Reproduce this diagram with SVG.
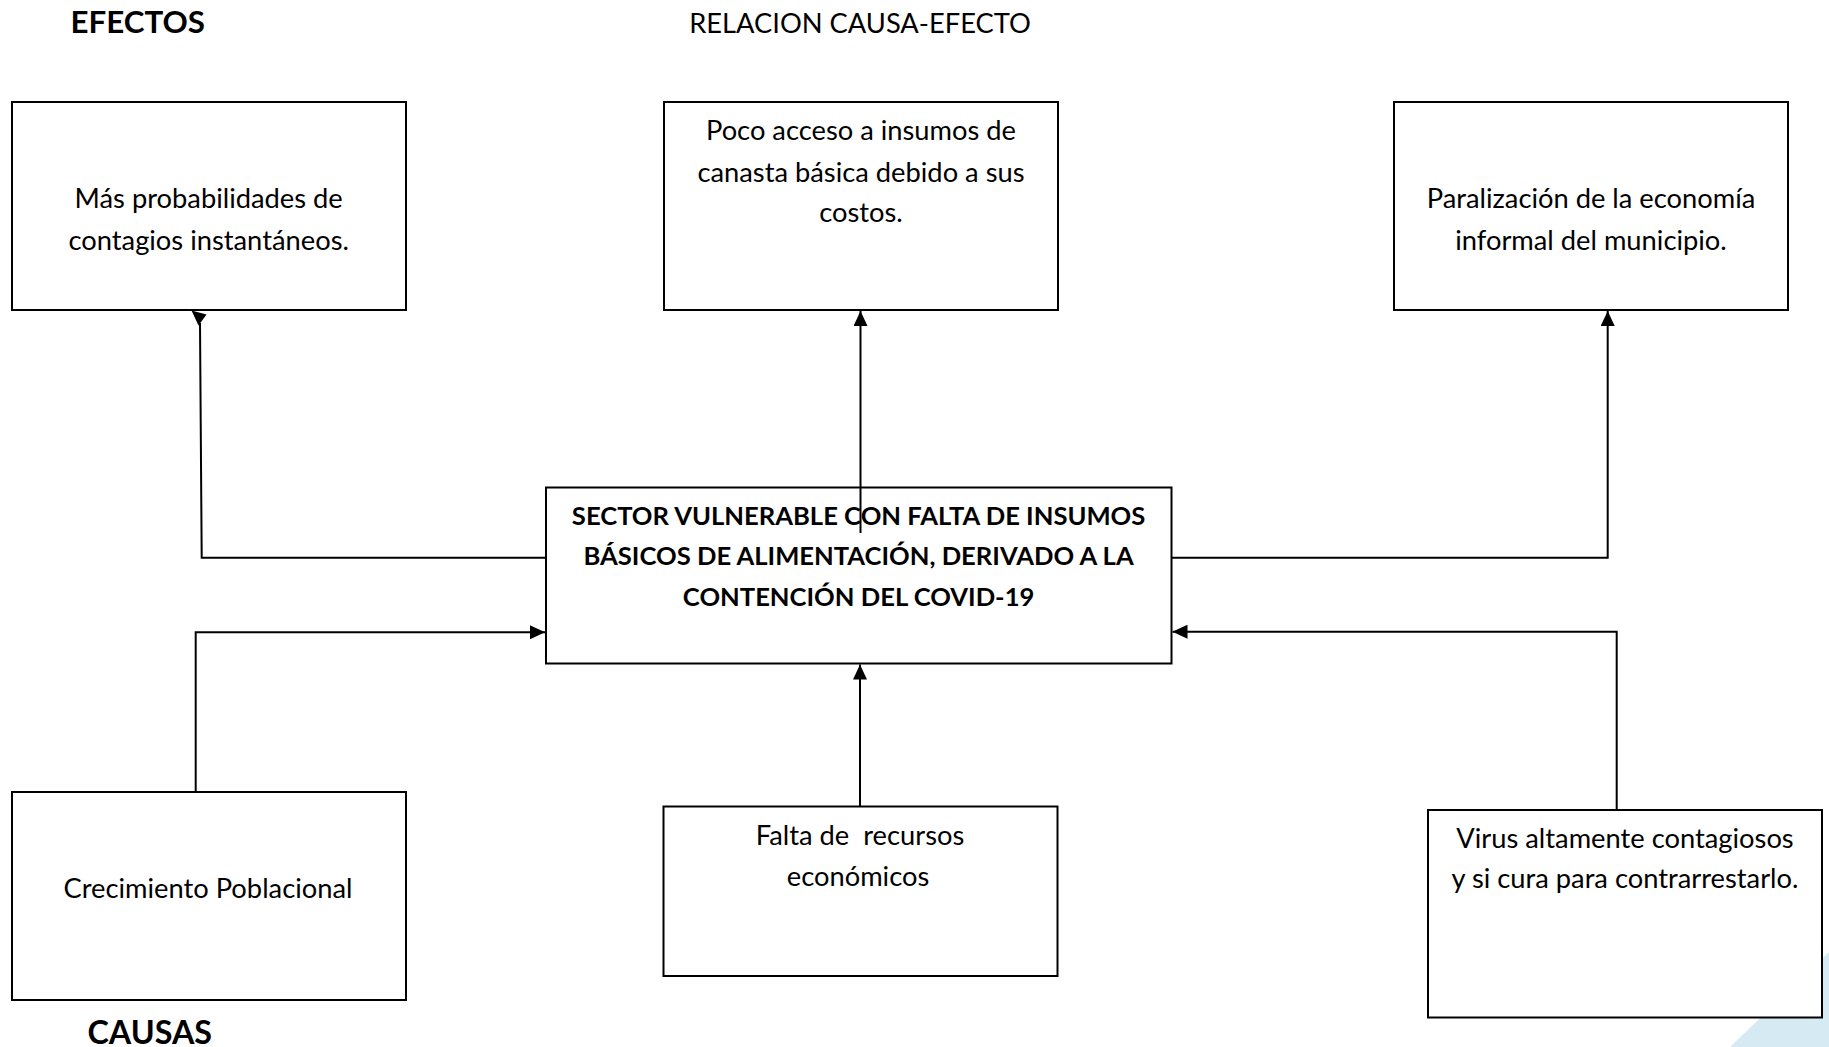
<svg xmlns="http://www.w3.org/2000/svg" width="1829" height="1047" viewBox="0 0 1829 1047">
<style>
.box{fill:#fff;stroke:#000;stroke-width:2}
.t{font-family:Lato,"Liberation Sans",sans-serif;font-size:27.3px;fill:#000;text-anchor:middle}
.bc{font-family:Lato,"Liberation Sans",sans-serif;font-size:25.6px;font-weight:bold;fill:#000;text-anchor:middle}
.b{font-family:Lato,"Liberation Sans",sans-serif;font-weight:bold;fill:#000}
.c{fill:none;stroke:#000;stroke-width:2}
</style>
<defs>
<marker id="ah" markerUnits="userSpaceOnUse" markerWidth="15" markerHeight="14" refX="15" refY="7" orient="auto" viewBox="0 0 15 14">
<path d="M0,0 L15,7 L0,14 z" fill="#000"/>
</marker>
</defs>
<rect width="1829" height="1047" fill="#fff"/>
<polygon points="1730,1047 1829,952 1829,1047" fill="#d5eaf2"/>

<g id="titles">
<text class="b" x="70.5" y="33" font-size="31.3">EFECTOS</text>
<text class="t" x="860" y="32.7" font-size="29">RELACION CAUSA-EFECTO</text>
<text class="b" x="87.5" y="1043.5" font-size="32.3">CAUSAS</text>
</g>

<g id="connectors">
<polyline class="c" points="546,557.7 201.7,557.7 200,323"/>
<polygon points="191.5,310.5 206.5,314.5 198.5,325.5" fill="#000"/>
<line class="c" x1="860.5" y1="533" x2="860.5" y2="311" marker-end="url(#ah)"/>
<polyline class="c" points="1171.5,557.7 1607.7,557.7 1607.7,311" marker-end="url(#ah)"/>
<polyline class="c" points="195.7,792 195.7,632.3 545,632.3" marker-end="url(#ah)"/>
<line class="c" x1="860" y1="806.5" x2="860" y2="664.5" marker-end="url(#ah)"/>
<polyline class="c" points="1616.7,810 1616.7,631.7 1172.5,631.7" marker-end="url(#ah)"/>
</g>

<g id="efecto1">
<rect class="box" x="12" y="102" width="394" height="208"/>
<text class="t" x="208.7" y="208">Más probabilidades de</text>
<text class="t" x="208.7" y="250">contagios instantáneos.</text>
</g>
<g id="efecto2">
<rect class="box" x="664" y="102" width="394" height="208"/>
<text class="t" x="861" y="140">Poco acceso a insumos de</text>
<text class="t" x="861" y="181.7">canasta básica debido a sus</text>
<text class="t" x="861" y="221.7">costos.</text>
</g>
<g id="efecto3">
<rect class="box" x="1394" y="102" width="394" height="208"/>
<text class="t" x="1591" y="208.3">Paralización de la economía</text>
<text class="t" x="1591" y="250">informal del municipio.</text>
</g>
<g id="problema">
<rect class="box" x="546" y="487.5" width="625.5" height="176" fill-opacity="0"/>
<text class="bc" x="858.6" y="525">SECTOR VULNERABLE CON FALTA DE INSUMOS</text>
<text class="bc" x="858.6" y="565">BÁSICOS DE ALIMENTACIÓN, DERIVADO A LA</text>
<text class="bc" x="858.6" y="606">CONTENCIÓN DEL COVID-19</text>
</g>
<g id="causa1">
<rect class="box" x="12" y="792" width="394" height="208"/>
<text class="t" x="208" y="898">Crecimiento Poblacional</text>
</g>
<g id="causa2">
<rect class="box" x="663.5" y="806.5" width="394" height="169.5"/>
<text class="t" x="860" y="845" xml:space="preserve">Falta de  recursos</text>
<text class="t" x="858" y="886">económicos</text>
</g>
<g id="causa3">
<rect class="box" x="1428" y="810" width="394" height="207.5"/>
<text class="t" x="1625" y="848.3">Virus altamente contagiosos</text>
<text class="t" x="1625" y="888">y si cura para contrarrestarlo.</text>
</g>
</svg>
